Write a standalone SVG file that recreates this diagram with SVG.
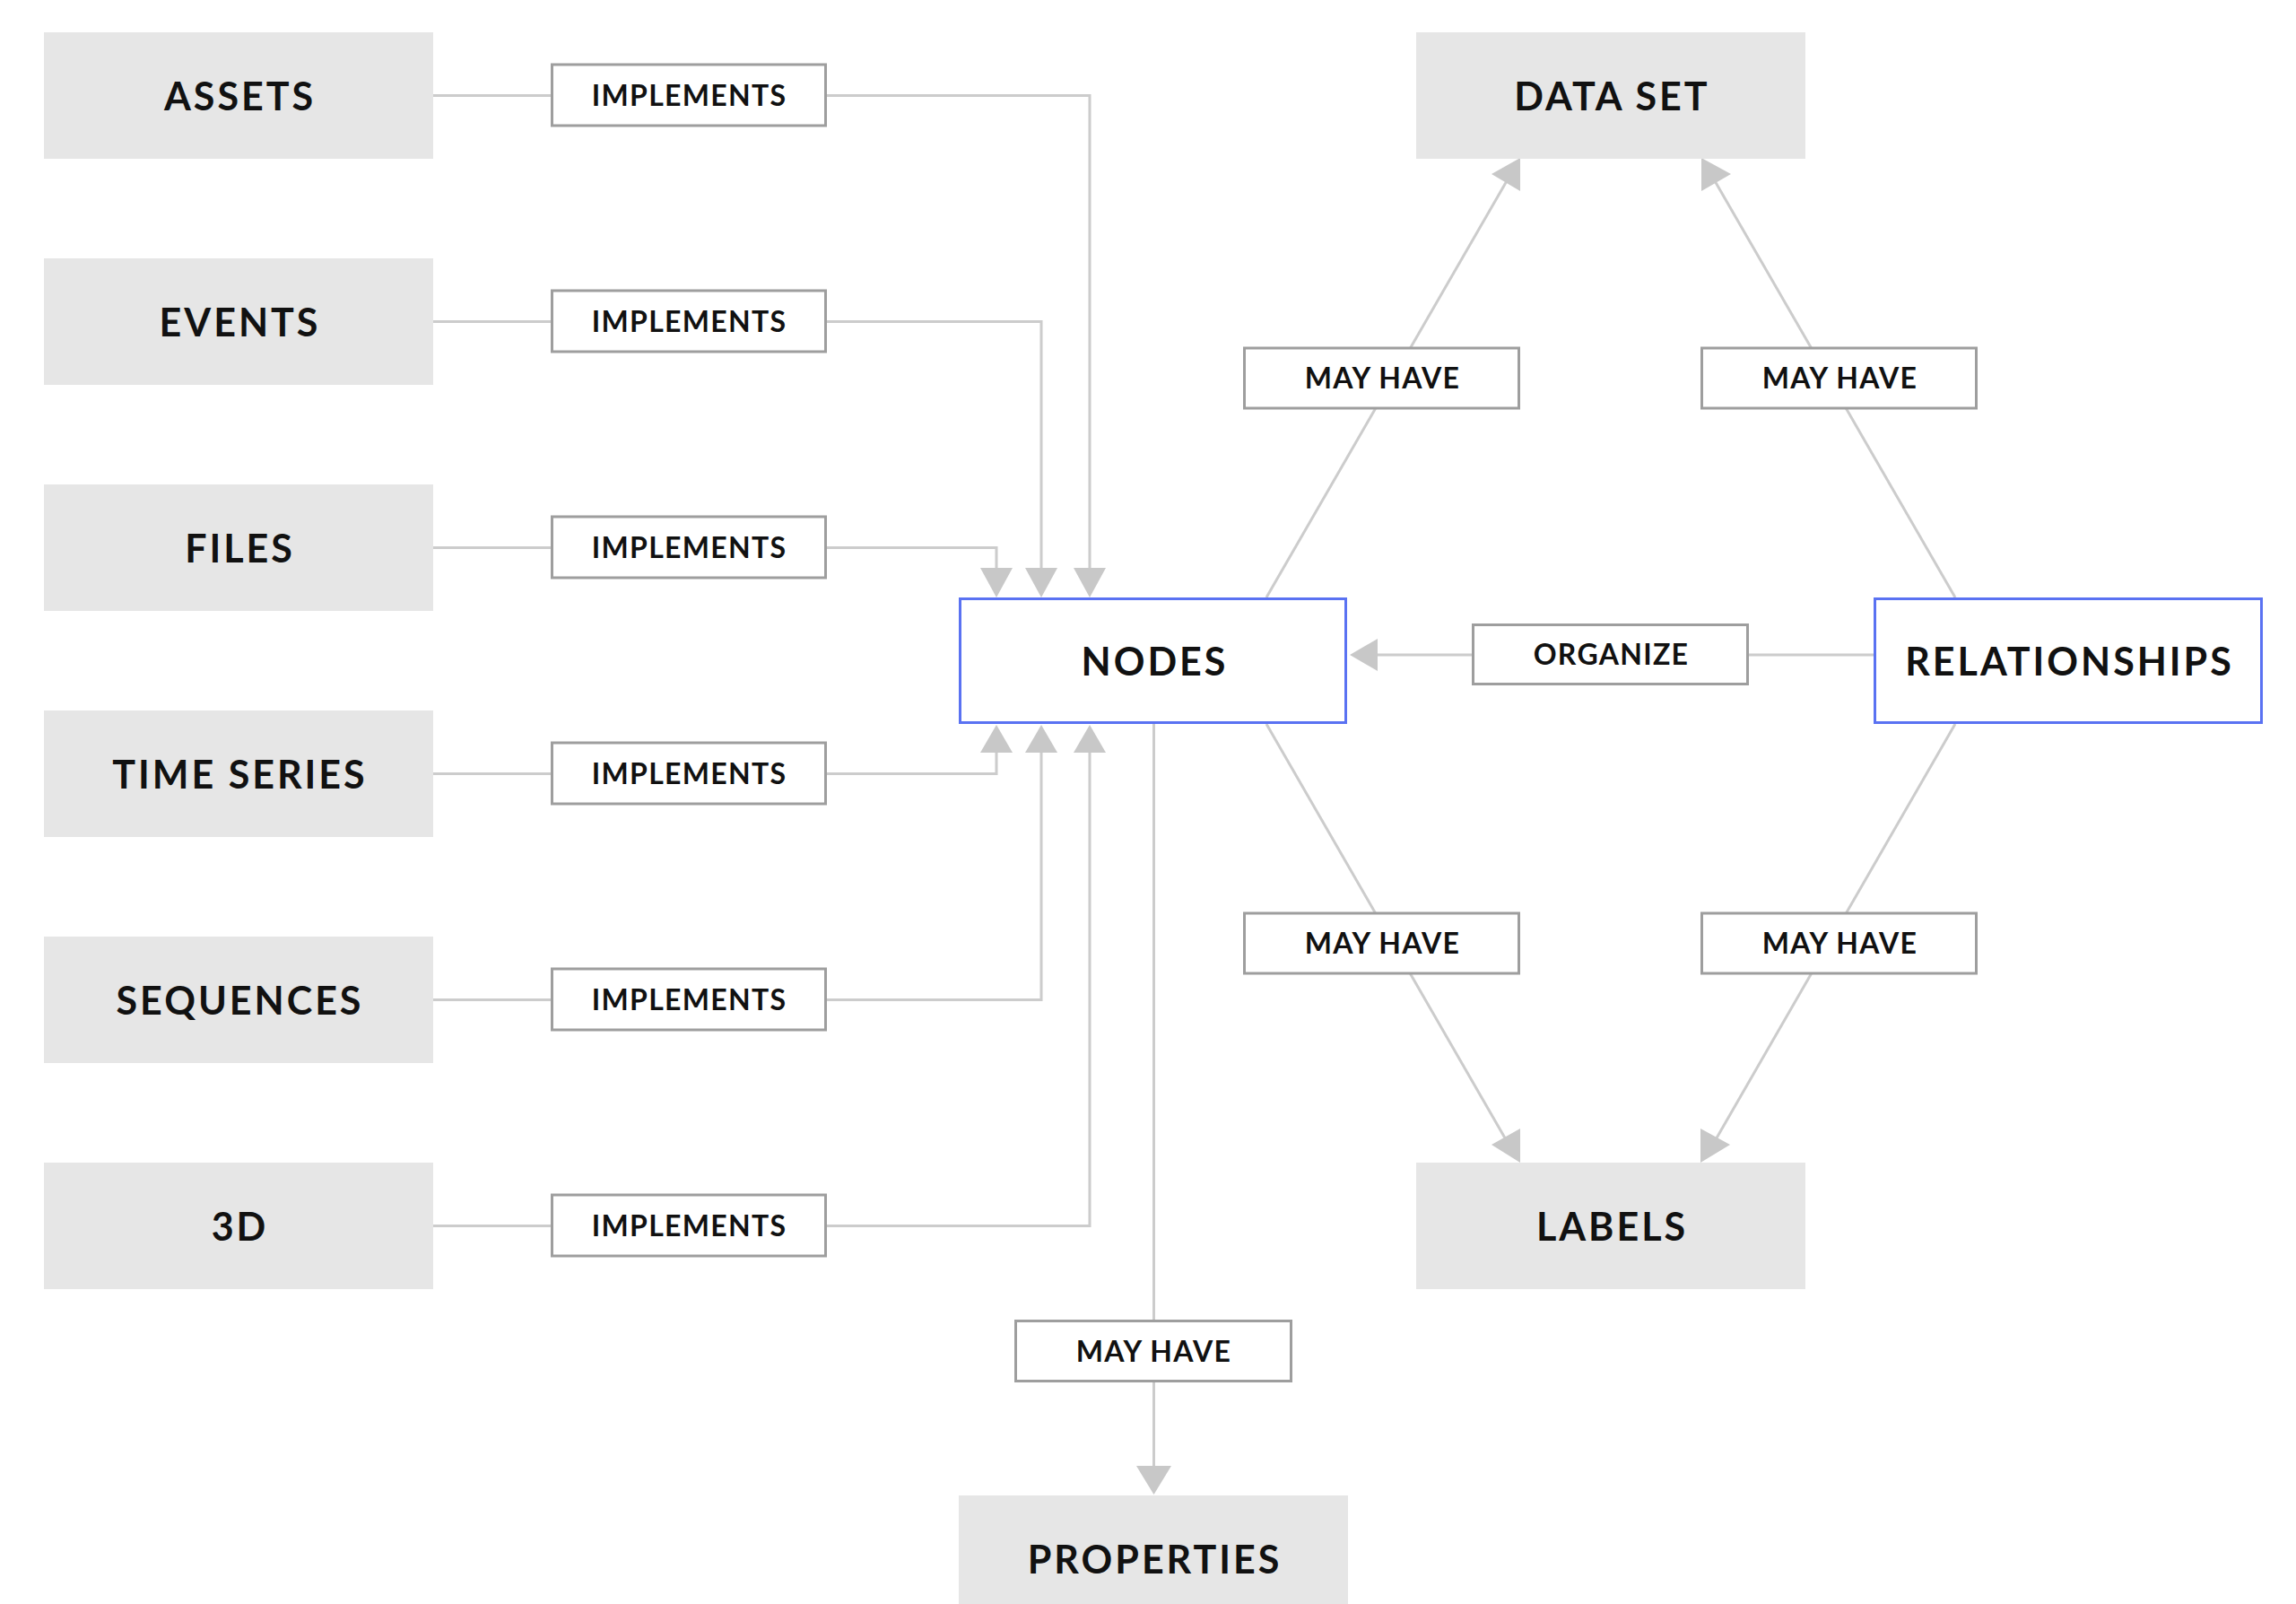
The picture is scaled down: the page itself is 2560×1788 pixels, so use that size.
<svg xmlns="http://www.w3.org/2000/svg" width="2560" height="1788" viewBox="0 0 2560 1788">
<style>
.node{fill:#e6e6e6}
.blue{fill:#ffffff;stroke:#5a72f2;stroke-width:3}
.lbl{fill:#ffffff;stroke:#9e9e9e;stroke-width:3}
.nt{font-family:Lato,"Liberation Sans",sans-serif;font-weight:700;font-size:43px;fill:#111;text-anchor:middle;letter-spacing:3px}
.lt{font-family:Lato,"Liberation Sans",sans-serif;font-weight:700;font-size:32px;fill:#111;text-anchor:middle;letter-spacing:1.3px}
.c{fill:none;stroke:#cccccc;stroke-width:3}
.ah{fill:#c8c8c8}
</style>
<rect width="2560" height="1788" fill="#ffffff"/>
<g id="connectors">
<path class="c" d="M483 106.5H614M922 106.5H1215V633"/>
<path class="c" d="M483 358.5H614M922 358.5H1161V633"/>
<path class="c" d="M483 610.5H614M922 610.5H1111V633"/>
<path class="c" d="M483 862.5H614M922 862.5H1111V839"/>
<path class="c" d="M483 1114.5H614M922 1114.5H1161V839"/>
<path class="c" d="M483 1366.5H614M922 1366.5H1215V839"/>
<polygon class="ah" points="1111,666 1093,633 1129,633"/>
<polygon class="ah" points="1161,666 1143,633 1179,633"/>
<polygon class="ah" points="1215,666 1197,633 1233,633"/>
<polygon class="ah" points="1111,808 1093,839 1129,839"/>
<polygon class="ah" points="1161,808 1143,839 1179,839"/>
<polygon class="ah" points="1215,808 1197,839 1233,839"/>
<path class="c" d="M2090 730H1950M1642 730H1536"/>
<polygon class="ah" points="1505,730 1536,712 1536,748"/>
<path class="c" d="M1412 666L1681 200"/>
<polygon class="ah" points="1695,176 1663,194 1695,213"/>
<path class="c" d="M2180 666L1911 200"/>
<polygon class="ah" points="1897,176 1930,194 1897,213"/>
<path class="c" d="M1412 807L1680 1272"/>
<polygon class="ah" points="1695,1258 1663,1276 1695,1296"/>
<path class="c" d="M2180 807L1912 1272"/>
<polygon class="ah" points="1896,1258 1929,1276 1896,1296"/>
<path class="c" d="M1286.5 807V1634"/>
<polygon class="ah" points="1286.5,1666 1267,1634 1306,1634"/>
</g>
<g id="assets"><rect class="node" x="49" y="36" width="434" height="141"/><text class="nt" x="267.5" y="122.5">ASSETS</text></g>
<g id="events"><rect class="node" x="49" y="288" width="434" height="141"/><text class="nt" x="267.5" y="374.5">EVENTS</text></g>
<g id="files"><rect class="node" x="49" y="540" width="434" height="141"/><text class="nt" x="267.5" y="626.5">FILES</text></g>
<g id="time-series"><rect class="node" x="49" y="792" width="434" height="141"/><text class="nt" x="267.5" y="878.5">TIME SERIES</text></g>
<g id="sequences"><rect class="node" x="49" y="1044" width="434" height="141"/><text class="nt" x="267.5" y="1130.5">SEQUENCES</text></g>
<g id="3d"><rect class="node" x="49" y="1296" width="434" height="141"/><text class="nt" x="267.5" y="1382.5">3D</text></g>
<g id="impl-assets"><rect class="lbl" x="615.5" y="72" width="305" height="68"/><text class="lt" x="768.5" y="118">IMPLEMENTS</text></g>
<g id="impl-events"><rect class="lbl" x="615.5" y="324" width="305" height="68"/><text class="lt" x="768.5" y="370">IMPLEMENTS</text></g>
<g id="impl-files"><rect class="lbl" x="615.5" y="576" width="305" height="68"/><text class="lt" x="768.5" y="622">IMPLEMENTS</text></g>
<g id="impl-timeseries"><rect class="lbl" x="615.5" y="828" width="305" height="68"/><text class="lt" x="768.5" y="874">IMPLEMENTS</text></g>
<g id="impl-sequences"><rect class="lbl" x="615.5" y="1080" width="305" height="68"/><text class="lt" x="768.5" y="1126">IMPLEMENTS</text></g>
<g id="impl-3d"><rect class="lbl" x="615.5" y="1332" width="305" height="68"/><text class="lt" x="768.5" y="1378">IMPLEMENTS</text></g>
<g id="nodes"><rect class="blue" x="1070.5" y="667.5" width="430" height="138"/><text class="nt" x="1287.5" y="752.5">NODES</text></g>
<g id="relationships"><rect class="blue" x="2090.5" y="667.5" width="431" height="138"/><text class="nt" x="2307.5" y="752.5">RELATIONSHIPS</text></g>
<g id="data-set"><rect class="node" x="1579" y="36" width="434" height="141"/><text class="nt" x="1797.5" y="122.5">DATA SET</text></g>
<g id="labels"><rect class="node" x="1579" y="1296" width="434" height="141"/><text class="nt" x="1797.5" y="1382.5">LABELS</text></g>
<g id="properties"><rect class="node" x="1069" y="1667" width="434" height="141"/><text class="nt" x="1287.5" y="1753.5">PROPERTIES</text></g>
<g id="organize"><rect class="lbl" x="1642.5" y="696.5" width="306" height="66"/><text class="lt" x="1796.5" y="741">ORGANIZE</text></g>
<g id="mayhave-ds-nodes"><rect class="lbl" x="1387.5" y="388" width="306" height="67"/><text class="lt" x="1541.5" y="433">MAY HAVE</text></g>
<g id="mayhave-ds-rel"><rect class="lbl" x="1897.5" y="388" width="306" height="67"/><text class="lt" x="2051.5" y="433">MAY HAVE</text></g>
<g id="mayhave-lb-nodes"><rect class="lbl" x="1387.5" y="1018" width="306" height="67"/><text class="lt" x="1541.5" y="1063">MAY HAVE</text></g>
<g id="mayhave-lb-rel"><rect class="lbl" x="1897.5" y="1018" width="306" height="67"/><text class="lt" x="2051.5" y="1063">MAY HAVE</text></g>
<g id="mayhave-props"><rect class="lbl" x="1132.5" y="1472.5" width="307" height="67"/><text class="lt" x="1286.5" y="1517.5">MAY HAVE</text></g>
</svg>
